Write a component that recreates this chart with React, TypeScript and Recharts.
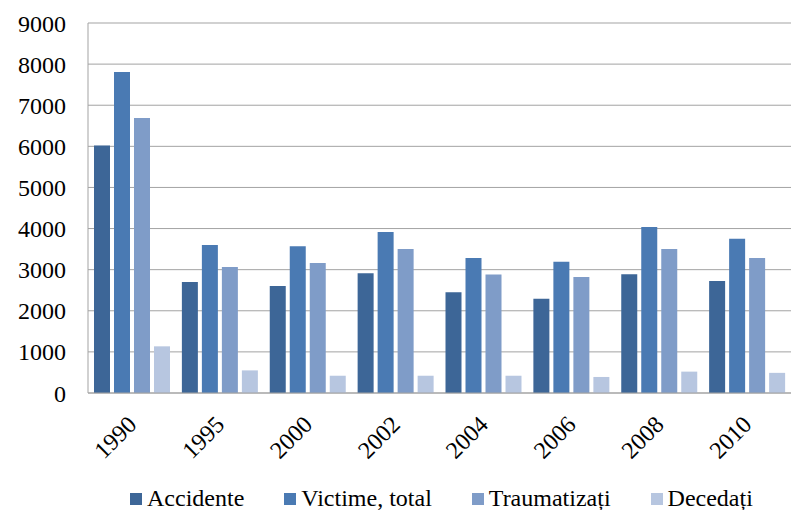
import React from 'react';
import { BarChart, Bar, XAxis, YAxis, CartesianGrid, Legend } from 'recharts';

const years = ['1990', '1995', '2000', '2002', '2004', '2006', '2008', '2010'];
const accidente = [6020, 2700, 2600, 2910, 2450, 2290, 2890, 2725];
const victime = [7810, 3600, 3570, 3915, 3285, 3195, 4035, 3755];
const traumatizati = [6690, 3065, 3160, 3505, 2885, 2820, 3505, 3285];
const decedati = [1135, 550, 420, 420, 420, 390, 520, 490];
const yTicks = [0, 1000, 2000, 3000, 4000, 5000, 6000, 7000, 8000, 9000];

const series = [
  { key: 'accidente', name: 'Accidente', color: '#3d6697' },
  { key: 'victime', name: 'Victime, total', color: '#4a7ab3' },
  { key: 'traumatizati', name: 'Traumatizați', color: '#7f9cc8' },
  { key: 'decedati', name: 'Decedați', color: '#b7c6e0' },
];

const data = years.map((year, i) => ({
  year,
  accidente: accidente[i],
  victime: victime[i],
  traumatizati: traumatizati[i],
  decedati: decedati[i],
}));

const serif = 'Liberation Serif';

const LegendContent = () => (
  <div style={{ display: 'flex', fontFamily: serif, fontSize: 24, color: '#000', whiteSpace: 'nowrap' }}>
    {series.map((s) => (
      <div key={s.key} style={{ display: 'flex', alignItems: 'center', marginRight: 40 }}>
        <span style={{ display: 'inline-block', width: 12, height: 12, background: s.color, marginRight: 5 }} />
        <span>{s.name}</span>
      </div>
    ))}
  </div>
);

const App: React.FC = () => {
  return (
    <div style={{ position: 'absolute', left: 0, top: 0, background: '#fff' }}>
      <BarChart
        width={791}
        height={510}
        data={data}
        margin={{ top: 23, right: 0, left: 0, bottom: 0 }}
        barGap={4}
        barCategoryGap={6}
      >
        <CartesianGrid vertical={false} stroke="#a3a3a3" />
        <XAxis
          dataKey="year"
          height={117}
          axisLine={{ stroke: '#a3a3a3' }}
          tickLine={false}
          interval={0}
          angle={-45}
          textAnchor="end"
          tickMargin={15}
          tick={{ fontFamily: serif, fontSize: 24, fill: '#000', dx: -6 }}
        />
        <YAxis
          width={88}
          domain={[0, 9000]}
          ticks={yTicks}
          axisLine={{ stroke: '#a3a3a3' }}
          tickLine={false}
          tickSize={14}
          tickMargin={8}
          tick={{ fontFamily: serif, fontSize: 24, fill: '#000' }}
        />
        <Legend
          verticalAlign="middle"
          layout="horizontal"
          content={<LegendContent />}
          wrapperStyle={{ top: 485, left: 130, width: 661, height: 27 }}
        />
        {series.map((s) => (
          <Bar key={s.key} dataKey={s.key} name={s.name} fill={s.color} isAnimationActive={false} />
        ))}
      </BarChart>
    </div>
  );
};

export default App;
